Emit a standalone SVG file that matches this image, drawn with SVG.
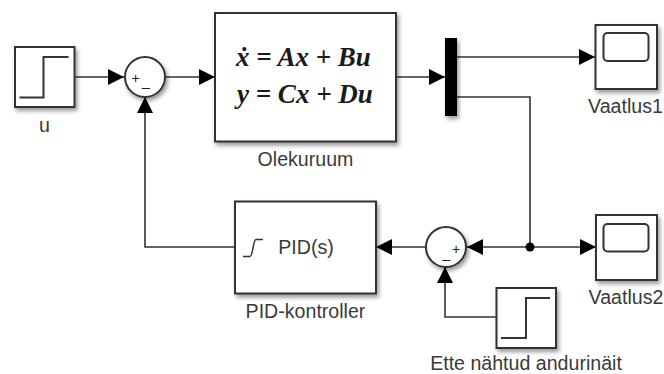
<svg xmlns="http://www.w3.org/2000/svg" width="664" height="374" viewBox="0 0 664 374">
<style>
.b{fill:#fff;stroke:#333;stroke-width:2;filter:url(#s)}
.i{fill:none;stroke:#333;stroke-width:2}
.c{fill:none;stroke:#333;stroke-width:1.6}
.a{fill:#000;stroke:none}
.t{font-family:"Liberation Sans",Arial,sans-serif;font-size:19.6px;fill:#3a3a3a;text-anchor:middle}
.e{font-family:"Liberation Serif","Times New Roman",serif;font-size:27px;font-weight:bold;font-style:italic;fill:#1a1a1a}
.o{font-family:"Liberation Sans",Arial,sans-serif;font-size:14px;fill:#222;text-anchor:middle}
</style>
<defs>
<filter id="s" x="-20%" y="-20%" width="150%" height="150%"><feDropShadow dx="2" dy="3" stdDeviation="2" flood-color="#000" flood-opacity="0.4"/></filter>
<marker id="m" markerUnits="userSpaceOnUse" viewBox="0 0 16 16" refX="16" refY="8" markerWidth="16" markerHeight="16" orient="auto"><path class="a" d="M0 0L16 8L0 16z"/></marker>
</defs>
<rect width="664" height="374" fill="#fff"/>
<g id="connectors">
<path class="c" d="M75 77H124" marker-end="url(#m)"/>
<path class="c" d="M165 77H215" marker-end="url(#m)"/>
<path class="c" d="M396 77H445" marker-end="url(#m)"/>
<path class="c" d="M457 57H595" marker-end="url(#m)"/>
<path class="c" d="M457 97H530V247"/>
<path class="c" d="M530 247H467" marker-end="url(#m)"/>
<path class="c" d="M530 247H596" marker-end="url(#m)"/>
<circle cx="530" cy="247" r="4.500" fill="#000"/>
<path class="c" d="M426 247H376" marker-end="url(#m)"/>
<path class="c" d="M235 247H145V97" marker-end="url(#m)"/>
<path class="c" d="M496 317H445V267" marker-end="url(#m)"/>
</g>
<g id="step-u">
<rect class="b" x="15" y="47" width="59.500" height="60"/>
<path class="i" d="M19.500 97.500H43.500V57H68.500"/>
<text class="t" x="44.500" y="132">u</text>
</g>
<g id="sum-1">
<circle class="b" cx="145" cy="77" r="20"/>
<text class="o" x="135.500" y="83">+</text>
<text class="o" x="146" y="86">_</text>
</g>
<g id="olekuruum">
<rect class="b" x="215" y="13" width="181" height="128.500"/>
<text class="e" x="236" y="66">ẋ = Ax + Bu</text>
<text class="e" x="237" y="103">y = Cx + Du</text>
<text class="t" x="305.500" y="166">Olekuruum</text>
</g>
<g id="mux">
<rect x="445" y="38" width="12" height="78" fill="#000" filter="url(#s)"/>
</g>
<g id="vaatlus-1">
<rect class="b" x="595.500" y="25" width="61.500" height="64"/>
<rect class="i" x="603.500" y="33" width="45" height="28" rx="4"/>
<text class="t" x="625.500" y="113">Vaatlus1</text>
</g>
<g id="vaatlus-2">
<rect class="b" x="596" y="215" width="61" height="65"/>
<rect class="i" x="603.500" y="224" width="45" height="27.500" rx="4"/>
<text class="t" x="626" y="304">Vaatlus2</text>
</g>
<g id="sum-2">
<circle class="b" cx="446" cy="247" r="20"/>
<text class="o" x="456" y="254">+</text>
<text class="o" x="446.500" y="258">_</text>
</g>
<g id="pid">
<rect class="b" x="235" y="201.500" width="141" height="92"/>
<path d="M243 256.500H250C253 256.500 253 239.500 256 239.500H263" fill="none" stroke="#333" stroke-width="1.500"/>
<text class="t" x="306" y="254">PID(s)</text>
<text class="t" x="305.500" y="318">PID-kontroller</text>
</g>
<g id="step-ette">
<rect class="b" x="496.500" y="288" width="59.500" height="60"/>
<path class="i" d="M501 338H526V298H550"/>
<text class="t" x="526" y="369.500">Ette nähtud andurinäit</text>
</g>
</svg>
